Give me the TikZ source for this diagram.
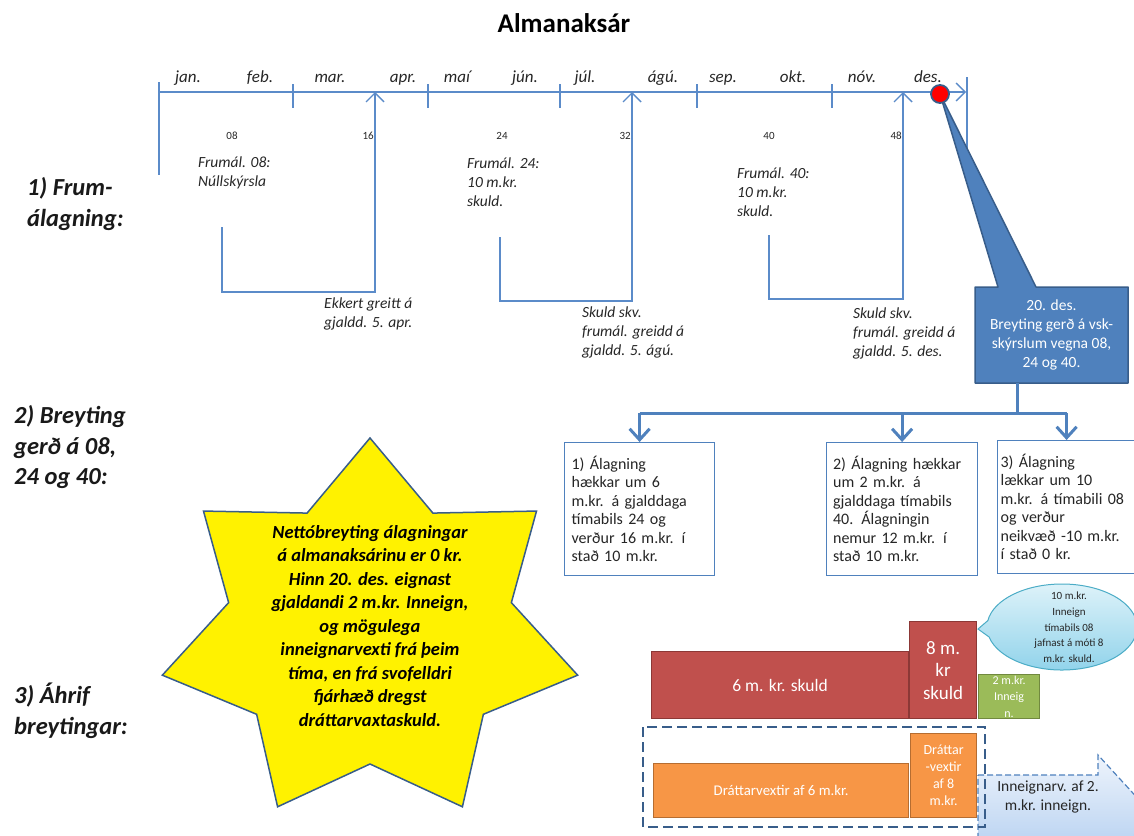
\documentclass[tikz,border=0pt]{standalone}
\usepackage{fontspec}
\setmainfont{Carlito}
\usepackage{xcolor}
\usepackage{tikz}
\usetikzlibrary{arrows.meta, shapes.callouts}

\definecolor{tlblue}{HTML}{5B8BC9}
\definecolor{offblue}{HTML}{4F81BD}
\definecolor{darkblue}{HTML}{385D8A}
\definecolor{barred}{HTML}{C0504D}
\definecolor{barredline}{HTML}{8C3836}
\definecolor{bargreen}{HTML}{9BBB59}
\definecolor{bargreenline}{HTML}{71893F}
\definecolor{barorange}{HTML}{F79646}
\definecolor{barorangeline}{HTML}{B66D31}
\definecolor{txtgray}{HTML}{262626}
\definecolor{bubtop}{HTML}{DDF2F9}
\definecolor{bubbot}{HTML}{8ED2EA}
\definecolor{bubline}{HTML}{4BACC6}
\definecolor{arrtop}{HTML}{EEF4FC}
\definecolor{arrbot}{HTML}{A9C8EE}

\begin{document}
\begin{tikzpicture}[x=1pt, y=-1pt,
    tline/.style={tlblue, line width=1.4pt},
    tarrow/.style={tline, -{Straight Barb[length=9pt, width=18pt]}},
    conn/.style={offblue, line width=3pt},
    connarr/.style={conn, -{Straight Barb[length=11pt, width=20pt]}},
    monlbl/.style={font=\fontsize{17}{20}\selectfont\itshape, text=txtgray, inner sep=0pt, anchor=base},
    numlbl/.style={font=\fontsize{11}{13}\selectfont, text=txtgray, inner sep=0pt, anchor=base},
    notetxt/.style={font=\fontsize{15.5}{19}\selectfont\itshape, text=txtgray, align=left, anchor=west, inner sep=0pt},
    sectlbl/.style={font=\fontsize{24.5}{30.5}\selectfont\bfseries\itshape, text=black!90, align=left, anchor=west, inner sep=0pt},
    stepbox/.style={draw=offblue, line width=1.2pt, fill=white, font=\fontsize{16}{18.5}\selectfont, text=txtgray, align=left, anchor=north west, minimum height=133},
    barbox/.style={text=white, inner sep=0pt, align=center, anchor=north west, line width=1.2pt}]

    \useasboundingbox (0,0) rectangle (1134,835);
    \begin{scope}
    \clip (0,0) rectangle (1134,835);

    \node[font=\fontsize{27}{30}\selectfont\bfseries] (title) at (564,23) {Almanaksár};

    % section labels
    \node[sectlbl] (sect1) at (27,204) {1) Frum-\\álagning:};
    \node[sectlbl] (sect2) at (14,447) {2) Breyting\\gerð á 08,\\24 og 40:};
    \node[sectlbl] (sect3) at (14,711) {3) Áhrif\\breytingar:};

    % timeline
    \draw[tline] (159,82) -- (159,175);
    \draw[tline] (967,77) -- (967,175);
    \foreach \x in {293,428,560,697,832}
        \draw[tline] (\x,84) -- (\x,108);
    \draw[tarrow] (159,92) -- (966,92);

    \foreach \m/\x [count=\i] in {jan./188, feb./260, mar./330, apr./403, maí/457, jún./525,
                                  júl./585, ágú./663, sep./723, okt./793, nóv./862, des./928}
        \node[monlbl] (mon\i) at (\x,82) {\m};

    \node[numlbl] (n08) at (232,139) {08};
    \node[numlbl, anchor=base east] (n16) at (374,139) {16};
    \node[numlbl] (n24) at (502,139) {24};
    \node[numlbl, anchor=base east] (n32) at (631,139) {32};
    \node[numlbl] (n40) at (769,139) {40};
    \node[numlbl, anchor=base east] (n48) at (902,139) {48};

    \node[notetxt] (fr08) at (198,172.5) {Frumál. 08:\\Núllskýrsla};
    \node[notetxt] (fr24) at (467,182.5) {Frumál. 24:\\10 m.kr.\\skuld.};
    \node[notetxt] (fr40) at (737,192.5) {Frumál. 40:\\10 m.kr.\\skuld.};
    \node[notetxt] (pay16) at (324,313.5) {Ekkert greitt á\\gjaldd. 5. apr.};
    \node[notetxt] (pay32) at (582,332.5) {Skuld skv.\\frumál. greidd á\\gjaldd. 5. ágú.};
    \node[notetxt] (pay48) at (853,333) {Skuld skv.\\frumál. greidd á\\gjaldd. 5. des.};

    \coordinate (b08) at (222,227);
    \coordinate (b24) at (500,237);
    \coordinate (b40) at (769,235);
    \coordinate (p16) at (375,92);
    \coordinate (p32) at (632,92);
    \coordinate (p48) at (903,92);
    \draw[tarrow] (b08) -- ++(0,65) -| (p16);
    \draw[tarrow] (b24) -- ++(0,64) -| (p32);
    \draw[tarrow] (b40) -- ++(0,64) -| (p48);

    % callout from 20. des.
    \coordinate (dot) at (940,94);
    \filldraw[fill=offblue, draw=darkblue, line width=1.5pt, line join=round]
        (975,287) -- (998,287) -- (dot) -- (1036,287) -- (1128,287) -- (1128,383) -- (975,383) -- cycle;
    \filldraw[fill=red, draw=darkblue, line width=1.8pt] (dot) circle (9);
    \node[font=\fontsize{15.5}{19}\selectfont, text=white, align=center, minimum width=153, minimum height=96, inner sep=0pt]
        (chg) at (1051.5,335) {20. des.\\Breyting gerð á vsk-\\skýrslum vegna 08,\\24 og 40.};

    % the three changes
    \node[stepbox, text width=136, inner xsep=7] (box1) at (564,442)
        {1) Álagning\\hækkar um 6\\m.kr. á gjalddaga\\tímabils 24 og\\verður 16 m.kr. í\\stað 10 m.kr.};
    \node[stepbox, text width=138, inner xsep=6.5] (box2) at (826,442)
        {2) Álagning hækkar\\um 2 m.kr. á\\gjalddaga tímabils\\40. Álagningin\\nemur 12 m.kr. í\\stað 10 m.kr.};
    \node[stepbox, text width=132, inner xsep=3] (box3) at (997,440)
        {3) Álagning\\lækkar um 10\\m.kr. á tímabili 08\\og verður\\neikvæð -10 m.kr.\\í stað 0 kr.};

    \coordinate (jn) at (1017,413);
    \draw[conn] (chg.south -| jn) -- (jn);
    \draw[conn] (box1.north |- jn) -- (box3.north |- jn);
    \foreach \b in {box1,box2,box3}
        \draw[connarr] (\b.north |- jn) -- (\b.north);

    % star
    \filldraw[fill=yellow, draw=darkblue, line width=1.5pt, line join=miter]
        plot[samples at={0,...,13}, variable=\k]
            ({370+(145+68*(1-mod(\k,2)))*cos(90+\k*180/7)}, {632-(132+62*(1-mod(\k,2)))*sin(90+\k*180/7)}) -- cycle;
    \node[font=\fontsize{18.5}{23.5}\selectfont\bfseries\itshape, align=center, inner sep=0pt] (net) at (370,626)
        {Nettóbreyting álagningar\\á almanaksárinu er 0 kr.\\Hinn 20. des. eignast\\gjaldandi 2 m.kr. Inneign,\\og mögulega\\inneignarvexti frá þeim\\tíma, en frá svofelldri\\fjárhæð dregst\\dráttarvaxtaskuld.};

    % effects
    \node[barbox, fill=barred, draw=barredline, minimum width=257, minimum height=67, font=\fontsize{17.5}{20}\selectfont]
        (sk6) at (651,651) {6 m. kr. skuld};
    \node[barbox, fill=barred, draw=barredline, minimum width=67, minimum height=97, font=\fontsize{19}{22.5}\selectfont]
        (sk8) at (909,621) {8 m.\\kr\\skuld};
    \node[barbox, fill=bargreen, draw=bargreenline, minimum width=61, minimum height=44, font=\fontsize{12}{16.5}\selectfont]
        (inn2) at (978,674) {2 m.kr.\\Inneig\\n.};

    \node[ellipse callout, draw=bubline, line width=1pt, top color=bubtop, bottom color=bubbot,
          minimum width=150, minimum height=86, callout pointer arc=22, callout absolute pointer={(978,629)}]
        (bub) at (1062,627) {};
    \node[font=\fontsize{11}{15.7}\selectfont, text=txtgray, align=center, inner sep=0pt] (bubt) at (1069,627.5)
        {10 m.kr.\\Inneign\\tímabils 08\\jafnast á móti 8\\m.kr. skuld.};

    \path[top color=arrtop, bottom color=arrbot, draw=offblue, line width=1.2pt, dash pattern=on 6pt off 3pt]
        (978,775) -- (1098,775) -- (1098,755) -- (1153,815) -- (1098,875) -- (1098,855) -- (978,855) -- cycle;
    \node[font=\fontsize{15.5}{19.5}\selectfont, text=txtgray, align=center, inner sep=0pt] (inv) at (1048,797)
        {Inneignarv. af 2.\\m.kr. inneign.};

    \node[barbox, fill=barorange, draw=barorangeline, minimum width=255, minimum height=54, font=\fontsize{14.8}{19}\selectfont]
        (dv6) at (653,763) {Dráttarvextir af 6 m.kr.};
    \node[barbox, fill=barorange, draw=barorangeline, minimum width=66, minimum height=84, font=\fontsize{14}{17}\selectfont]
        (dv8) at (910,733) {Dráttar\\-vextir\\af 8\\m.kr.};

    \draw[darkblue, line width=2.5pt, dash pattern=on 10pt off 5pt] (643,727) rectangle (985,827);

    \end{scope}
\end{tikzpicture}
\end{document}
